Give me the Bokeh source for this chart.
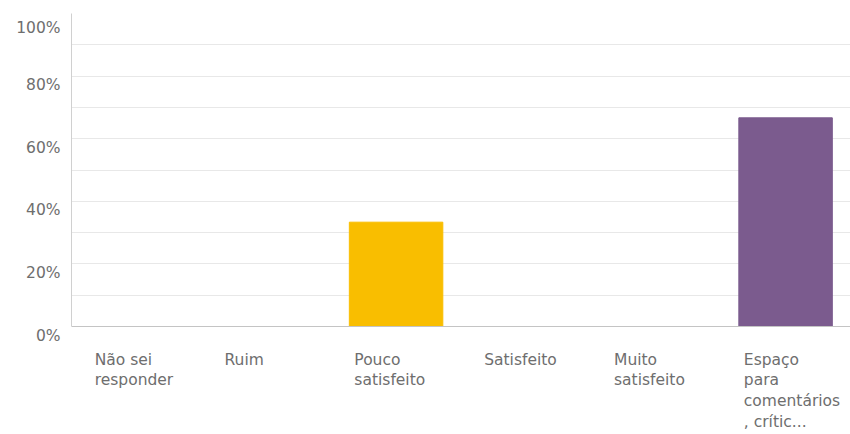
from bokeh.plotting import figure
from bokeh.models import ColumnDataSource, LinearAxis, Range1d, FixedTicker, Span
from bokeh.core.properties import value
from bokeh.embed import file_html
from bokeh.resources import INLINE

categories = ["Não sei responder", "Ruim", "Pouco satisfeito", "Satisfeito",
              "Muito satisfeito", "Espaço para comentários, crític..."]
tick_labels = ["Não sei\nresponder", "Ruim", "Pouco\nsatisfeito", "Satisfeito",
               "Muito\nsatisfeito", "Espaço\npara\ncomentários\n, crític..."]
values = [0.0, 0.0, 33.33, 0.0, 0.0, 66.67]
colors = ["#2DCCD3", "#F05B24", "#F9BE00", "#6BC8CD", "#507CB6", "#7B5B8E"]
y_ticks = [0, 20, 40, 60, 80, 100]
y_tick_labels = ["0%", "20%", "40%", "60%", "80%", "100%"]
grid_ticks = [0, 10, 20, 30, 40, 50, 60, 70, 80, 90, 100]

FONT = "DejaVu Sans"
GRAY = "#6e6e6e"
BAR_W = 0.72

n = len(categories)
centers = [i + 0.5 for i in range(n)]
lefts = [c - BAR_W / 2 for c in centers]
src = ColumnDataSource(dict(x=centers, xl=lefts, cat=categories, val=values,
                            color=colors, lab=tick_labels, zero=[0] * n))

# the frame reaches below 0 so the category labels can sit inside it
Y_MIN = -34.5
p = figure(x_range=Range1d(0, n), y_range=Range1d(Y_MIN, 100), width=850, height=434,
           output_backend="svg", toolbar_location=None,
           x_axis_location=None, y_axis_location=None,
           min_border_left=71, min_border_right=0, min_border_top=13,
           min_border_bottom=0)
p.outline_line_color = None
p.background_fill_color = "white"
p.xgrid.grid_line_color = None

p.ygrid.ticker = FixedTicker(ticks=grid_ticks)
p.ygrid.grid_line_color = "#e8e8e8"

p.vbar(x="x", top="val", bottom=0, width=BAR_W, color="color", source=src)

# baseline (x axis line)
p.add_layout(Span(location=0, dimension="width", line_color="#c4c4c4", line_width=1))

# category labels, left-aligned just inside each bar's left edge
p.text(x="xl", y="zero", text="lab", source=src, x_offset=5, y_offset=24,
       text_align="left", text_baseline="top", text_font=value(FONT),
       text_font_size="15.5px", text_color=GRAY, text_line_height=1.16)

yax = LinearAxis(bounds=(0, 100))
yax.ticker = FixedTicker(ticks=y_ticks)
yax.major_label_overrides = {t: "\n" + l for t, l in zip(y_ticks, y_tick_labels)}
yax.major_tick_line_color = None
yax.minor_tick_line_color = None
yax.major_tick_out = 0
yax.axis_line_color = "#d0d0d0"
yax.major_label_text_font = FONT
yax.major_label_text_font_size = "15.5px"
yax.major_label_text_color = GRAY
yax.major_label_text_line_height = 1.0
yax.major_label_standoff = 11
p.add_layout(yax, "left")

open("out.html", "w").write(file_html(p, INLINE))
